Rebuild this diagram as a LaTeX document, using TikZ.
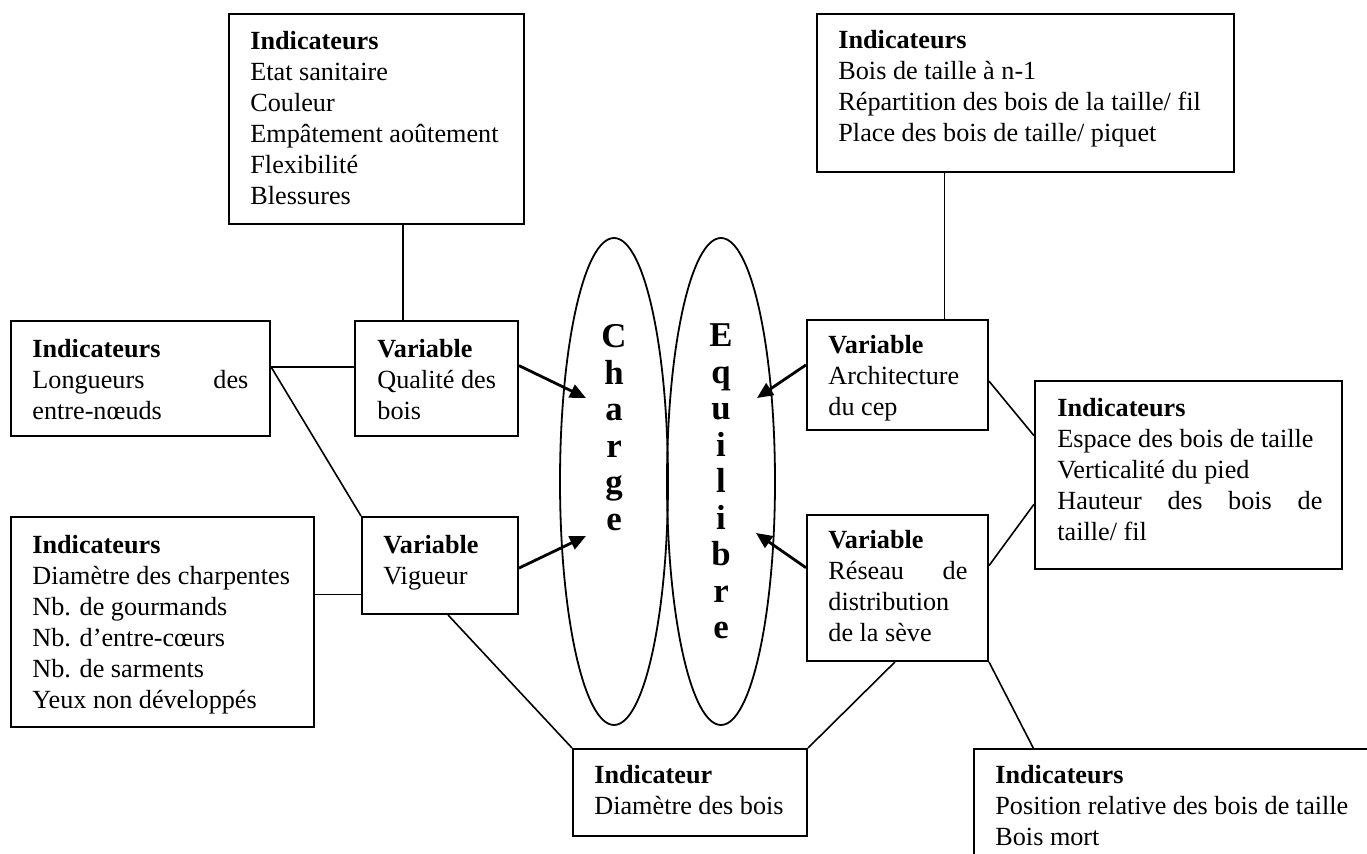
\documentclass[tikz,border=0pt]{standalone}
\usepackage{fontspec}
\setmainfont{Liberation Serif}
\usetikzlibrary{calc,arrows.meta,shapes.geometric,fit}
\begin{document}
\begin{tikzpicture}[x=0.5pt,y=-0.5pt,
  box/.style={draw, line width=1pt, rectangle, inner sep=0pt},
  txt/.style={anchor=base west, inner sep=0pt, font=\fontsize{13.1pt}{15.5pt}\selectfont},
  link/.style={line width=0.8pt},
  arr/.style={line width=1.4pt, -{Triangle[length=8pt,width=7pt]}},
  oval/.style={draw, ellipse, line width=0.9pt, inner sep=0pt, minimum width=54pt, minimum height=243.5pt},
  vert/.style={anchor=base, inner sep=0pt, font=\fontsize{17.4pt}{18.25pt}\selectfont\bfseries}
]
\useasboundingbox (0,0) rectangle (1367,854);
\clip (0,0) rectangle (1367,854);

% boxes
\node[box, fit={(229,14)(524,224)}] (tl) {};
\node[box, fit={(817,14)(1234,172)}] (tr) {};
\node[box, fit={(11,321)(270,436)}] (lg) {};
\node[box, fit={(355,321)(518,436)}] (qu) {};
\node[box, fit={(362,517)(518,614)}] (vg) {};
\node[box, fit={(11,517)(314,727)}] (bl) {};
\node[box, fit={(807,320)(988,430)}] (ar) {};
\node[box, fit={(1035,381)(1342,569)}] (es) {};
\node[box, fit={(807,515)(988,661)}] (rs) {};
\node[box, fit={(573,749)(807,836)}] (dm) {};
\node[box, fit={(974,749)(1420,900)}] (br) {};

% ellipses
\node[oval] (charge) at (614,481.5) {};
\node[oval] (equil) at (721,481.5) {};
\node[vert] at (614,348) {\parbox[t]{30pt}{\centering C\\h\\a\\r\\g\\e}};
\node[vert] at (721,347) {\parbox[t]{30pt}{\centering E\\q\\u\\i\\l\\i\\b\\r\\e}};

% texts
\node[txt] at (250,50) {\parbox[t]{250pt}{\raggedright\textbf{Indicateurs}\\Etat sanitaire\\Couleur\\Empâtement aoûtement\\Flexibilité\\Blessures}};
\node[txt] at (838,49) {\parbox[t]{250pt}{\raggedright\textbf{Indicateurs}\\Bois de taille à n-1\\Répartition des bois de la taille/ fil\\Place des bois de taille/ piquet}};
\node[txt] at (32,358) {\parbox[t]{108pt}{\raggedright\textbf{Indicateurs}\\Longueurs\hfill des\\entre-nœuds}};
\node[txt] at (377,358) {\parbox[t]{200pt}{\raggedright\textbf{Variable}\\Qualité des\\bois}};
\node[txt] at (383,554) {\parbox[t]{200pt}{\raggedright\textbf{Variable}\\Vigueur}};
\node[txt] at (32,554) {\parbox[t]{250pt}{\raggedright\textbf{Indicateurs}\\Diamètre des charpentes\\Nb. de gourmands\\Nb. d’entre-cœurs\\Nb. de sarments\\Yeux non développés}};
\node[txt] at (828,354) {\parbox[t]{200pt}{\raggedright\textbf{Variable}\\Architecture\\du cep}};
\node[txt] at (1057,417) {\parbox[t]{132.5pt}{\raggedright\textbf{Indicateurs}\\Espace des bois de taille\\Verticalité du pied\\Hauteur\hfill des\hfill bois\hfill de\\taille/ fil}};
\node[txt] at (828,549) {\parbox[t]{69.5pt}{\raggedright\textbf{Variable}\\Réseau\hfill de\\distribution\\de la sève}};
\node[txt] at (594,784) {\parbox[t]{200pt}{\raggedright\textbf{Indicateur}\\Diamètre des bois}};
\node[txt] at (995,784) {\parbox[t]{250pt}{\raggedright\textbf{Indicateurs}\\Position relative des bois de taille\\Bois mort}};

% connectors
\draw[link] ($(tl.south west)!0.59!(tl.south east)$) coordinate (a) -- (a |- qu.north);
\draw[link] ($(tr.south west)!0.307!(tr.south east)$) coordinate (b) -- (b |- ar.north);
\draw[link] ($(lg.north east)!0.4!(lg.south east)$) coordinate (c) -- (c -| qu.west);
\draw[link] (c) -- (vg.north west);
\draw[link] ($(bl.north east)!0.371!(bl.south east)$) coordinate (d) -- (d -| vg.west);
\draw[link] ($(vg.south west)!0.551!(vg.south east)$) -- (dm.north west);
\draw[link] ($(rs.south west)!0.486!(rs.south east)$) -- (dm.north east);
\draw[link] (rs.south east) -- ($(br.north west)!0.1345!(br.north east)$);
\draw[link] ($(ar.north east)!0.555!(ar.south east)$) -- ($(es.north west)!0.293!(es.south west)$);
\draw[link] ($(es.north west)!0.654!(es.south west)$) -- ($(rs.north east)!0.349!(rs.south east)$);

% arrows
\coordinate (t1) at (586,398);
\coordinate (t2) at (586,536);
\coordinate (t3) at (757,398);
\coordinate (t4) at (756,533);
\draw[arr] ($(qu.north east)!0.39!(qu.south east)$) -- (t1);
\draw[arr] ($(vg.north east)!0.526!(vg.south east)$) -- (t2);
\draw[arr] ($(ar.north west)!0.41!(ar.south west)$) -- (t3);
\draw[arr] ($(rs.north west)!0.363!(rs.south west)$) -- (t4);
\end{tikzpicture}
\end{document}
